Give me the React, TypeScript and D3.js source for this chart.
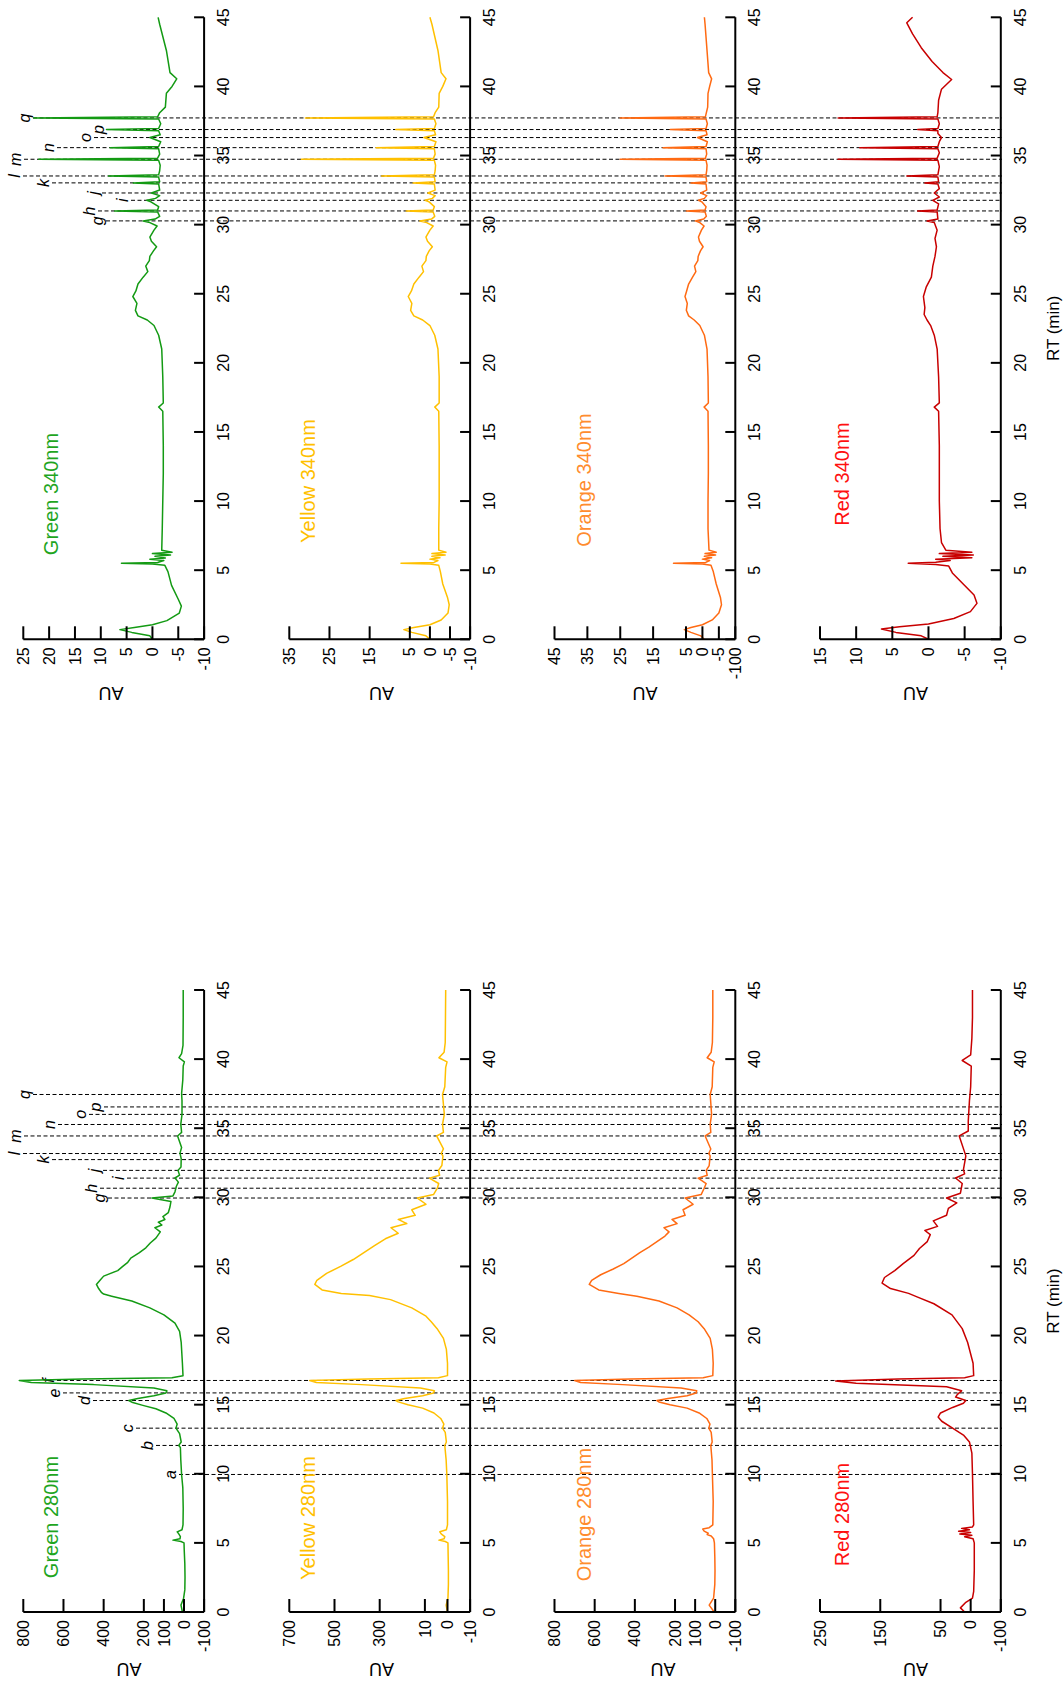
import React from "react";
import * as d3 from "d3";

type Pt = [number, number]; // [retention time (min), absorbance (AU)]

// ---------- chromatogram traces, 280 nm ----------
const green280: Pt[] = [
  [0, 8], [0.5, 15], [1.0, 2], [1.6, -4], [2.5, -5], [3.5, -4], [4.5, -1], [5.0, 0],
  [5.1, 15], [5.2, 55], [5.3, 20], [5.45, 18], [5.65, 26], [5.8, 34], [5.95, 10], [6.3, 5],
  [7.5, 4], [9, 6], [9.95, 12], [11, 16], [11.9, 18], [12.05, 26], [12.3, 14], [12.9, 22],
  [13.3, 40], [13.6, 34], [14.0, 50], [14.4, 90], [14.7, 140], [14.95, 205], [15.15, 255],
  [15.3, 275], [15.45, 230], [15.65, 150], [15.85, 90], [16.0, 85], [16.2, 150], [16.45, 450],
  [16.6, 760], [16.75, 820], [16.85, 500], [16.95, 60], [17.1, 5], [18, 8], [19.5, 14],
  [20.3, 22], [20.9, 45], [21.5, 100], [22.0, 170], [22.5, 260], [22.85, 360], [23.0, 400],
  [23.1, 410], [23.4, 425], [23.7, 436], [24.0, 418], [24.3, 400], [24.7, 330], [25.0, 305],
  [25.3, 280], [25.6, 265], [26.0, 222], [26.35, 190], [26.7, 168], [27.05, 140], [27.5, 118],
  [27.8, 145], [28.0, 110], [28.2, 128], [28.4, 95], [28.6, 105], [28.9, 78], [29.3, 70],
  [29.7, 65], [29.95, 160], [30.1, 55], [30.4, 45], [30.8, 38], [31.1, 28], [31.4, 45],
  [31.6, 22], [31.95, 30], [32.2, 15], [32.8, 14], [33.2, 20], [33.6, 12], [34.44, 32],
  [34.7, 12], [35.3, 16], [36, 10], [37, 10], [37.5, 12], [38.5, 6], [39.5, 4], [39.8, -2],
  [40.1, 25], [40.4, 12], [41, 5], [43, 4], [45, 4],
];

const yellow280: Pt[] = [
  [0, 0], [0.5, 6], [1.0, -2], [2, -4], [3, -4], [4, -3], [5, -2], [5.1, 10], [5.2, 38],
  [5.3, 15], [5.45, 12], [5.65, 28], [5.8, 34], [5.95, 5], [6.3, 0], [8, 0], [9.95, 3],
  [11, 6], [12.05, 12], [12.3, 5], [13.0, 10], [13.3, 22], [13.6, 16], [14.0, 30], [14.4, 60],
  [14.75, 110], [15.0, 175], [15.2, 218], [15.3, 228], [15.45, 190], [15.65, 110], [15.85, 62],
  [16.0, 58], [16.2, 120], [16.45, 380], [16.6, 580], [16.75, 610], [16.85, 350], [16.95, 40],
  [17.1, 0], [18, 0], [19.0, 5], [19.8, 18], [20.5, 46], [21.0, 72], [21.4, 95], [22.0, 158],
  [22.6, 252], [22.9, 345], [23.05, 470], [23.3, 555], [23.7, 587], [24.0, 578], [24.5, 535],
  [25.0, 473], [25.5, 417], [26.0, 370], [26.5, 323], [27.0, 275], [27.4, 218], [27.8, 250],
  [28.1, 180], [28.4, 218], [28.7, 143], [29.1, 158], [29.5, 95], [29.95, 133], [30.2, 62],
  [30.66, 45], [31.0, 39], [31.39, 80], [31.6, 35], [31.95, 40], [32.3, 25], [33.0, 20],
  [33.17, 28], [33.5, 18], [34.44, 48], [34.7, 18], [35.3, 22], [36, 14], [37.44, 22], [38, 12],
  [39.4, 8], [39.8, 2], [40.1, 38], [40.5, 15], [41.2, 10], [43, 9], [45, 8],
];

const orange280: Pt[] = [
  [0, 5], [0.5, 30], [1.0, 8], [2, 2], [3, 1], [4, 2], [5, 4], [5.3, 8], [5.5, 20], [5.6, 40],
  [5.7, 35], [5.85, 55], [6.0, 62], [6.1, 30], [6.3, 12], [8, 10], [9.95, 14], [11, 16],
  [12.05, 22], [12.3, 15], [13.0, 20], [13.3, 32], [13.6, 26], [14.0, 42], [14.4, 80],
  [14.75, 140], [15.0, 225], [15.2, 280], [15.3, 290], [15.45, 235], [15.65, 140], [15.85, 95],
  [16.0, 92], [16.2, 170], [16.45, 460], [16.6, 670], [16.75, 700], [16.85, 420], [16.95, 60],
  [17.1, 12], [18, 10], [19.0, 14], [19.8, 25], [20.5, 55], [21.0, 85], [21.5, 130], [22.0, 190],
  [22.5, 280], [22.85, 390], [23.05, 480], [23.3, 580], [23.7, 627], [24.0, 615], [24.4, 570],
  [24.8, 510], [25.2, 455], [25.6, 415], [26.0, 375], [26.4, 330], [26.8, 290], [27.2, 250],
  [27.5, 230], [27.8, 255], [28.1, 190], [28.4, 215], [28.7, 150], [29.1, 160], [29.5, 110],
  [29.95, 150], [30.2, 70], [30.66, 55], [31.0, 45], [31.39, 85], [31.6, 40], [31.95, 45],
  [32.3, 30], [33.0, 25], [33.17, 32], [33.5, 22], [34.44, 50], [34.7, 22], [35.3, 25], [36, 18],
  [37.44, 25], [38, 15], [39.4, 12], [39.8, 5], [40.1, 40], [40.5, 20], [41.2, 14], [43, 12],
  [45, 12],
];

const red280: Pt[] = [
  [0, 10], [0.3, 17], [0.7, 8], [1.0, -3], [1.5, -5], [3, -6], [5, -6], [5.3, -4], [5.45, 10],
  [5.55, -2], [5.65, 18], [5.75, 0], [5.85, 20], [5.95, 2], [6.05, 15], [6.15, -3], [6.3, -5],
  [8, -4], [10, -3], [11.5, -2], [12.3, 2], [12.8, 12], [13.3, 30], [13.8, 48], [14.1, 54],
  [14.4, 50], [14.8, 30], [15.1, 12], [15.3, 8], [15.55, 25], [15.75, 22], [16.0, 15], [16.3, 40],
  [16.55, 190], [16.72, 224], [16.85, 120], [16.95, 10], [17.1, -5], [18, -4], [19.5, 5],
  [20.5, 14], [21.5, 31], [22.3, 61], [22.8, 89], [23.05, 103], [23.4, 133], [23.8, 147],
  [24.2, 143], [24.7, 126], [25.2, 112], [25.8, 94], [26.3, 85], [26.8, 72], [27.3, 67],
  [27.6, 76], [27.9, 55], [28.3, 62], [28.7, 40], [29.2, 37], [29.6, 23], [29.95, 40], [30.3, 17],
  [31.0, 14], [31.4, 25], [31.7, 10], [32.0, 12], [33.0, 8], [34.44, 19], [34.8, 4], [35.5, 4],
  [37, 2], [38, 0], [39.5, -1], [39.9, 14], [40.3, 0], [41.5, -2], [43, -3], [45, -3],
];

// ---------- chromatogram traces, 340 nm ----------
const green340: Pt[] = [
  [0, 0], [0.25, 0.5], [0.5, 4], [0.7, 6.3], [0.85, 3.5], [1.05, 0], [1.35, -2.8], [1.9, -5.2],
  [2.4, -5.6], [2.9, -5.0], [3.9, -3.7], [4.9, -3.0], [5.35, -2.4], [5.45, 0], [5.5, 6],
  [5.56, -1], [5.7, -2.2], [5.8, 0.5], [5.88, -2.5], [6.0, -0.5], [6.1, -3.5], [6.2, 0],
  [6.3, -3.8], [6.45, -1.8], [8, -1.9], [10, -2.0], [12, -2.1], [14, -2.1], [16.5, -2.0],
  [16.8, -1.2], [17.1, -2.1], [19, -2.0], [21, -1.8], [22, -1.2], [22.7, -0.3], [23.1, 1.0],
  [23.4, 2.8], [23.8, 3.3], [24.3, 3.0], [24.8, 3.8], [25.2, 3.2], [25.7, 2.8], [26.2, 1.8],
  [26.6, 0.9], [27.0, 1.3], [27.4, 0.6], [27.7, 0.5], [28.1, -0.2], [28.4, -0.8], [28.8, 0.2],
  [29.1, 0.5], [29.6, -0.3], [29.9, -0.9], [30.15, 0.5], [30.27, 1.8], [30.4, -0.5], [30.6, -1.4],
  [30.92, -1], [30.99, 7.3], [31.06, -1], [31.3, -1.2], [31.65, 0.3], [31.76, 1.1], [31.9, -0.6],
  [32.1, -1.4], [32.29, 0.2], [32.5, -1.4], [32.94, -1.2], [33.02, 3.7], [33.1, -1.4],
  [33.44, -1.2], [33.52, 8.5], [33.6, -1.2], [33.9, -1.4], [34.3, -1.5], [34.65, -1.2],
  [34.73, 22], [34.81, -1], [35.1, -1.4], [35.49, -1.2], [35.57, 8.2], [35.65, -1.2], [36.0, -1.6],
  [36.3, 0.5], [36.5, -1.5], [36.8, -1.2], [36.88, 8.9], [36.96, -1.2], [37.3, -1.6],
  [37.64, -1.2], [37.72, 23], [37.8, -1], [38.1, -1.4], [38.5, -2.5], [39.5, -2.7], [40.0, -3.8],
  [40.55, -4.7], [41.0, -3.4], [42.6, -2.7], [44.5, -1.4], [45, -1.1],
];

const yellow340: Pt[] = [
  [0, 0], [0.25, 1], [0.5, 4.5], [0.7, 6.5], [0.85, 4], [1.05, 0], [1.4, -2.8], [1.9, -4.5],
  [2.5, -4.8], [3.0, -4.4], [4.0, -3.2], [4.9, -2.6], [5.35, -2.2], [5.45, 0], [5.5, 7.2],
  [5.56, -1], [5.7, -2], [5.8, 0], [5.9, -2.5], [6.0, -0.5], [6.1, -3.8], [6.2, -0.5], [6.3, -4],
  [6.45, -2.2], [8, -2.2], [10, -2.3], [12, -2.3], [14, -2.3], [16.5, -2.2], [16.8, -1.2],
  [17.1, -2.3], [19, -2.3], [21, -2.0], [22, -1.2], [22.7, 0], [23.1, 1.8], [23.4, 4.0],
  [23.8, 4.8], [24.3, 4.5], [24.8, 5.4], [25.2, 4.6], [25.7, 4.0], [26.2, 2.7], [26.6, 1.6],
  [27.0, 2.0], [27.4, 1.0], [27.7, 0.9], [28.1, 0.2], [28.4, -0.6], [28.8, 0.6], [29.1, 1.0],
  [29.6, 0], [29.9, -0.8], [30.15, 0.8], [30.27, 2.5], [30.4, -0.4], [30.6, -1.2], [30.92, -0.8],
  [30.99, 5.9], [31.06, -0.8], [31.3, -1.1], [31.65, 0.2], [31.76, 1.2], [31.9, -0.6],
  [32.1, -1.3], [32.29, 0.5], [32.5, -1.3], [32.94, -1.1], [33.02, 4.2], [33.1, -1.3],
  [33.44, -1.1], [33.52, 12], [33.6, -1.1], [33.9, -1.3], [34.3, -1.4], [34.65, -1.1], [34.73, 32],
  [34.81, -0.9], [35.1, -1.3], [35.49, -1.1], [35.57, 13.4], [35.65, -1.1], [36.0, -1.5],
  [36.3, 1.5], [36.5, -1.4], [36.8, -1.1], [36.88, 8.5], [36.96, -1.1], [37.3, -1.5],
  [37.64, -1.1], [37.72, 31], [37.8, -0.9], [38.1, -1.3], [38.5, -2.2], [39.5, -2.3],
  [40.0, -3.2], [40.55, -4.0], [41.0, -2.8], [42.6, -2.0], [44.5, -0.5], [45, 0],
];

const orange340: Pt[] = [
  [0, -0.5], [0.25, 0.5], [0.5, 3.5], [0.7, 5.5], [0.85, 3.5], [1.05, 0], [1.4, -3], [1.9, -5],
  [2.5, -5.8], [3.0, -5.5], [4.0, -4.2], [4.9, -3.3], [5.35, -2.6], [5.45, 0], [5.5, 8.8],
  [5.56, -1], [5.7, -2.2], [5.8, 0], [5.9, -2.8], [6.0, -0.6], [6.1, -4], [6.2, -0.8], [6.3, -4.2],
  [6.45, -2.0], [8, -1.7], [10, -1.7], [12, -1.8], [14, -1.8], [16.5, -1.7], [16.8, -0.5],
  [17.1, -1.8], [19, -1.7], [21, -1.4], [22, -0.6], [22.7, 0.8], [23.1, 2.5], [23.4, 4.2],
  [23.8, 4.9], [24.3, 4.6], [24.8, 5.3], [25.2, 4.8], [25.7, 4.2], [26.2, 3.0], [26.6, 2.0],
  [27.0, 2.4], [27.4, 1.4], [27.7, 1.3], [28.1, 0.6], [28.4, -0.2], [28.8, 0.9], [29.1, 1.2],
  [29.6, 0.3], [29.9, -0.5], [30.15, 0.8], [30.27, 2.2], [30.4, -0.4], [30.6, -1.2], [30.92, -0.8],
  [30.99, 4.9], [31.06, -0.8], [31.3, -1.1], [31.65, 0.2], [31.76, 1.2], [31.9, -0.6],
  [32.1, -1.3], [32.29, 0.5], [32.5, -1.3], [32.94, -1.1], [33.02, 3.5], [33.1, -1.3],
  [33.44, -1.1], [33.52, 11.4], [33.6, -1.1], [33.9, -1.3], [34.3, -1.4], [34.65, -1.1],
  [34.73, 25], [34.81, -0.9], [35.1, -1.3], [35.49, -1.1], [35.57, 12], [35.65, -1.1],
  [36.0, -1.5], [36.3, 1.5], [36.5, -1.4], [36.8, -1.1], [36.88, 9.8], [36.96, -1.1], [37.3, -1.5],
  [37.64, -1.1], [37.72, 25], [37.8, -0.9], [38.1, -1.2], [38.5, -1.6], [39.5, -1.7], [40.0, -2.2],
  [40.55, -2.8], [41.0, -1.9], [42.6, -1.4], [44.5, -0.8], [45, -0.6],
];

const red340: Pt[] = [
  [0, 0], [0.25, 1], [0.5, 4.5], [0.75, 6.5], [0.9, 4], [1.1, 0], [1.5, -3.5], [2.0, -5.8],
  [2.6, -6.7], [3.2, -6.3], [4.0, -4.8], [4.8, -3.3], [5.3, -2.8], [5.42, -1], [5.5, 2.8],
  [5.58, -1], [5.7, -3], [5.8, -1], [5.9, -6], [6.0, -2], [6.1, -6.2], [6.2, -1.5], [6.3, -6],
  [6.45, -2.4], [7, -1.8], [8, -1.6], [10, -1.5], [12, -1.5], [14, -1.5], [16.5, -1.4],
  [16.8, -0.8], [17.1, -1.5], [19, -1.4], [21, -1.2], [22, -0.8], [22.7, -0.3], [23.1, 0.2],
  [23.5, 0.6], [24, 0.5], [24.8, 0.7], [25.5, 0.3], [26.2, -0.4], [27, -0.6], [27.7, -0.9],
  [28.4, -1.1], [29, -0.9], [29.6, -1.2], [30.15, -0.8], [30.27, 0.2], [30.4, -1.3],
  [30.92, -1.2], [30.99, 1.5], [31.06, -1.2], [31.5, -1.4], [31.76, -0.6], [32.0, -1.5],
  [32.29, -0.8], [32.6, -1.5], [32.94, -1.3], [33.02, 0.5], [33.1, -1.4], [33.44, -1.3],
  [33.52, 3], [33.6, -1.3], [34.2, -1.5], [34.65, -1.3], [34.73, 12.5], [34.81, -1.2],
  [35.2, -1.5], [35.49, -1.3], [35.57, 9.5], [35.65, -1.3], [36.0, -1.5], [36.3, -1.8],
  [36.6, -1.3], [36.8, -1.3], [36.88, 1.5], [36.96, -1.3], [37.3, -1.5], [37.64, -1.3],
  [37.72, 12.5], [37.8, -1.2], [38.1, -1.3], [39, -1.4], [39.8, -1.8], [40.5, -3.2], [41.0, -2.0],
  [41.8, -0.5], [42.8, 1.0], [43.8, 2.2], [44.6, 3.0], [45, 2.2],
];

// ---------- axes ----------
const rtTicks = [0, 5, 10, 15, 20, 25, 30, 35, 40, 45];

const green280Ticks = [800, 600, 400, 200, 100, 0, -100];
const green280TickLabels = ["800", "600", "400", "200", "100", "0", "-100"];
const yellow280Ticks = [700, 500, 300, 100, 0, -100];
const yellow280TickLabels = ["700", "500", "300", "10", "0", "-10"];
const orange280Ticks = [800, 600, 400, 200, 100, 0, -100];
const orange280TickLabels = ["800", "600", "400", "200", "100", "0", "-100"];
const red280Ticks = [250, 150, 50, 0, -50];
const red280TickLabels = ["250", "150", "50", "0", "-100"];

const green340Ticks = [25, 20, 15, 10, 5, 0, -5, -10];
const green340TickLabels = ["25", "20", "15", "10", "5", "0", "-5", "-10"];
const yellow340Ticks = [35, 25, 15, 5, 0, -5, -10];
const yellow340TickLabels = ["35", "25", "15", "5", "0", "-5", "-10"];
const orange340Ticks = [45, 35, 25, 15, 5, 0, -5, -10];
const orange340TickLabels = ["45", "35", "25", "15", "5", "0", "-5", "-100"];
const red340Ticks = [15, 10, 5, 0, -5, -10];
const red340TickLabels = ["15", "10", "5", "0", "-5", "-10"];

// ---------- peak markers ----------
const peakLetters280 = ["a", "b", "c", "d", "e", "f", "g", "h", "i", "j", "k", "l", "m", "n", "o", "p", "q"];
const peakRT280 = [9.95, 12.05, 13.3, 15.3, 15.85, 16.75, 29.95, 30.66, 31.39, 31.95, 32.73, 33.17, 34.44, 35.27, 36.0, 36.54, 37.44];
const peakLetters340 = ["g", "h", "i", "j", "k", "l", "m", "n", "o", "p", "q"];
const peakRT340 = [30.27, 30.99, 31.76, 32.29, 33.02, 33.52, 34.73, 35.57, 36.3, 36.88, 37.72];

// ---------- layout (drawn in the upright frame, then turned a quarter) ----------
const W = 1064;
const H = 1686;
const FONT = "'Liberation Sans', Arial, Helvetica, sans-serif";
const colX0 = [74, 1046.7]; // RT = 0 position of each column
const rtLen = 622; // 45 min span
const rowTop = [23.3, 289.3, 554.5, 820];
const plotH = 180.8;
const tickLenY = 13;
const tickLenX = 10;
const labelLevel280 = [170, 147, 127, 84, 54, 48, 99, 91, 118, 94, 43, 14, 15, 49, 80, 95, 24];
const labelLevel340 = [97, 89, 122, 93, 43, 14, 15, 48, 85, 98, 24];
const dashEnd = 1002;
const titleX = [[169, 168, 171.5, 171.5], [1192, 1205, 1206, 1212]];
const titleY = [51, 308, 583.5, 841.5];
const auLabelX = [17, 993];
const auLabelY = [[129, 381.5, 663, 915.6], [111, 381.5, 645, 915.6]];

type Panel = {
  col: number;
  row: number;
  title: string;
  data: Pt[];
  domain: [number, number];
  ticks: number[];
  tickLabels: string[];
  line: string;
  text: string;
};

const GREEN = "#139a13";
const YELLOW = "#ffc000";
const ORANGE = "#ff6a12";
const RED = "#c80000";

const panels: Panel[] = [
  { col: 0, row: 0, title: "Green 280nm", data: green280, domain: [-100, 800], ticks: green280Ticks, tickLabels: green280TickLabels, line: GREEN, text: "#1fa51f" },
  { col: 0, row: 1, title: "Yellow 280nm", data: yellow280, domain: [-100, 700], ticks: yellow280Ticks, tickLabels: yellow280TickLabels, line: YELLOW, text: "#ffc000" },
  { col: 0, row: 2, title: "Orange 280nm", data: orange280, domain: [-100, 800], ticks: orange280Ticks, tickLabels: orange280TickLabels, line: ORANGE, text: "#ff8c2e" },
  { col: 0, row: 3, title: "Red 280nm", data: red280, domain: [-50, 250], ticks: red280Ticks, tickLabels: red280TickLabels, line: RED, text: "#ff1010" },
  { col: 1, row: 0, title: "Green 340nm", data: green340, domain: [-10, 25], ticks: green340Ticks, tickLabels: green340TickLabels, line: GREEN, text: "#1fa51f" },
  { col: 1, row: 1, title: "Yellow 340nm", data: yellow340, domain: [-10, 35], ticks: yellow340Ticks, tickLabels: yellow340TickLabels, line: YELLOW, text: "#ffc000" },
  { col: 1, row: 2, title: "Orange 340nm", data: orange340, domain: [-10, 45], ticks: orange340Ticks, tickLabels: orange340TickLabels, line: ORANGE, text: "#ff8c2e" },
  { col: 1, row: 3, title: "Red 340nm", data: red340, domain: [-10, 15], ticks: red340Ticks, tickLabels: red340TickLabels, line: RED, text: "#ff1010" },
];

function PanelView({ p }: { p: Panel }) {
  const x0 = colX0[p.col];
  const top = rowTop[p.row];
  const bottom = top + plotH;
  const x = d3.scaleLinear().domain([0, 45]).range([x0, x0 + rtLen]);
  const y = d3.scaleLinear().domain(p.domain).range([bottom, top]);
  const path = d3
    .line<Pt>()
    .x((d) => x(d[0]))
    .y((d) => y(d[1]))(p.data);
  const lastTick = d3.max(p.ticks) as number;
  const ax = auLabelX[p.col];
  const ay = auLabelY[p.col][p.row];
  return (
    <g>
      <path d={path ?? ""} fill="none" stroke={p.line} strokeWidth={1.5} strokeLinejoin="round" />
      {/* AU axis */}
      <line x1={x0} x2={x0} y1={y(lastTick)} y2={bottom} stroke="#000" strokeWidth={2} />
      {p.ticks.map((t, i) => (
        <g key={"y" + i}>
          <line x1={x0} x2={x0 + tickLenY} y1={y(t)} y2={y(t)} stroke="#000" strokeWidth={2} />
          <text x={x0 - 8} y={y(t)} dy="0.35em" textAnchor="end" fontSize={16} fill="#000">
            {p.tickLabels[i]}
          </text>
        </g>
      ))}
      {/* RT axis */}
      <line x1={x0} x2={x(45)} y1={bottom} y2={bottom} stroke="#000" strokeWidth={2} />
      {rtTicks.map((t) => (
        <g key={"x" + t}>
          <line x1={x(t)} x2={x(t)} y1={bottom} y2={bottom - tickLenX} stroke="#000" strokeWidth={2} />
          <text x={x(t)} y={bottom + 19.5} dy="0.35em" textAnchor="middle" fontSize={16} fill="#000">
            {t}
          </text>
        </g>
      ))}
      <text
        transform={`translate(${ax},${ay}) rotate(-90)`}
        dy="0.35em"
        textAnchor="middle"
        fontSize={18}
        fill="#000"
      >
        AU
      </text>
      <text x={titleX[p.col][p.row]} y={titleY[p.row]} dy="0.35em" textAnchor="middle" fontSize={20} fill={p.text}>
        {p.title}
      </text>
    </g>
  );
}

function PeakMarkers({ col, letters, rts, levels }: { col: number; letters: string[]; rts: number[]; levels: number[] }) {
  const x0 = colX0[col];
  const x = d3.scaleLinear().domain([0, 45]).range([x0, x0 + rtLen]);
  return (
    <g>
      {letters.map((l, i) => (
        <g key={l}>
          <line
            x1={x(rts[i])}
            x2={x(rts[i])}
            y1={levels[i] + 9}
            y2={dashEnd}
            stroke="#000"
            strokeWidth={1}
            strokeDasharray="4 2.5"
          />
          <text x={x(rts[i])} y={levels[i]} dy="0.35em" textAnchor="middle" fontSize={16} fontStyle="italic" fill="#000">
            {l}
          </text>
        </g>
      ))}
    </g>
  );
}

export default function App() {
  return (
    <svg
      width={W}
      height={H}
      viewBox={`0 0 ${W} ${H}`}
      style={{ position: "absolute", left: 0, top: 0, display: "block", background: "#fff" }}
      fontFamily={FONT}
    >
      <rect x={0} y={0} width={W} height={H} fill="#fff" />
      <g transform={`translate(0,${H}) rotate(-90)`}>
        <PeakMarkers col={0} letters={peakLetters280} rts={peakRT280} levels={labelLevel280} />
        <PeakMarkers col={1} letters={peakLetters340} rts={peakRT340} levels={labelLevel340} />
        {panels.map((p) => (
          <PanelView key={p.title} p={p} />
        ))}
        {[0, 1].map((c) => (
          <text key={c} x={colX0[c] + rtLen / 2} y={1053} dy="0.35em" textAnchor="middle" fontSize={17} fill="#000">
            RT (min)
          </text>
        ))}
      </g>
    </svg>
  );
}
